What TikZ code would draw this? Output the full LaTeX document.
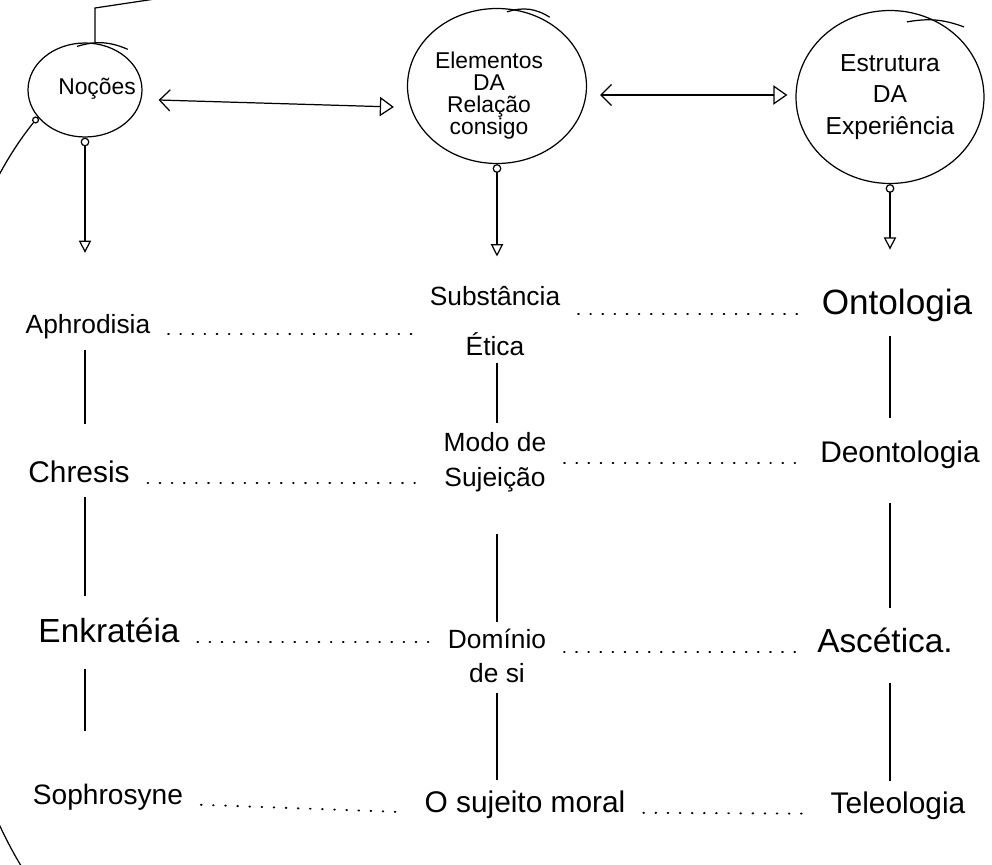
\documentclass[tikz,border=0pt]{standalone}
\usepackage{fontspec}
\setmainfont{Liberation Sans}
\usetikzlibrary{arrows.meta,shapes.geometric}

\begin{document}
\begin{tikzpicture}[x=0.02cm, y=-0.02cm,
blob/.style={draw, ellipse, inner sep=0pt, align=center, line width=0.7pt},
lbl/.style={align=center, inner sep=2pt, font=\fontsize{17}{19}\selectfont},
arr/.style={{Circle[open,length=5pt]}-{Triangle[open,length=7pt,width=7pt]}, line width=0.7pt},
harr/.style={{Straight Barb[length=6pt,width=12pt]}-{Triangle[open,length=8pt,width=11pt]}, line width=0.7pt},
dots/.style={line width=1.1pt, line cap=round, dash pattern=on 0.4pt off 6.5pt, shorten <=8pt, shorten >=8pt},
vl/.style={line width=0.7pt}
]
\useasboundingbox (0,0) rectangle (992,865);
\fill[white] (0,0) rectangle (992,865);
\clip (0,0) rectangle (992,865);

% the three notions
\node[blob, minimum width=2.28cm, minimum height=1.88cm] (noc) at (85,90) {};
\node[font=\fontsize{13}{15}\selectfont] (noctxt) at (97,89) {Noções};
\node[blob, minimum width=3.58cm, minimum height=3.1cm] (elem) at (497,86) {};
\node[align=center, font=\fontsize{13}{12.5}\selectfont] (elemtxt) at (489,96) {Elementos\\DA\\Relação\\consigo};
\node[blob, minimum width=3.76cm, minimum height=3.46cm, font=\fontsize{14}{18}\selectfont] (estr) at (890,97) {Estrutura\\DA\\Experiência};

% the grid
\node[lbl, font=\fontsize{15}{19}\selectfont] (aphro) at (88,327) {Aphrodisia};
\node[lbl, font=\fontsize{15}{28}\selectfont] (subst) at (495,321) {Substância\\Ética};
\node[lbl, font=\fontsize{20}{22}\selectfont] (onto) at (897,305) {Ontologia};

\node[lbl] (chres) at (79,472) {Chresis};
\node[lbl, font=\fontsize{15}{20}\selectfont] (modo) at (495,462) {Modo de\\Sujeição};
\node[lbl] (deon) at (900,455) {Deontologia};

\node[lbl, font=\fontsize{19}{21}\selectfont] (enk) at (109,630) {Enkratéia};
\node[lbl, font=\fontsize{15}{19}\selectfont] (dom) at (497,656) {Domínio\\de si};
\node[lbl, font=\fontsize{19}{21}\selectfont] (asc) at (885,640) {Ascética.};

\node[lbl, font=\fontsize{16}{19}\selectfont] (soph) at (108,797) {Sophrosyne};
\node[lbl] (suj) at (525,805) {O sujeito moral};
\node[lbl] (tele) at (898,806) {Teleologia};

\coordinate (topbend) at (95,8);
\coordinate (topend) at (175,-4);
\coordinate (botend) at (30,880);

% links between the notions
\draw[harr] ([shift={(16,10)}]noc.east) -- ([shift={(-13,21)}]elem.west);
\draw[harr] ([shift={(13,9)}]elem.east) -- ([shift={(-8,-2)}]estr.west);
\draw[vl] (topbend |- noc.north) -- (topbend) -- (topend);
\draw[vl, {Circle[open,length=4pt]}-] (noc.210) .. controls (-110,300) and (-90,700) .. (botend);

% pen overshoots
\draw[vl] ([shift={(-8,4)}]noc.north) to[bend left=20] ([shift={(6,-4)}]noc.45);
\draw[vl] ([shift={(10,4)}]elem.north) to[bend left=25] ([shift={(6,-2)}]elem.55);
\draw[vl] ([shift={(17,12)}]estr.north) to[bend left=15] ([shift={(10,-6)}]estr.45);

\draw[arr, shorten >=33pt] (noc.south) -- (noc.south |- aphro.north);
\draw[arr, shorten >=15pt] (elem.south) -- (elem.south |- subst.north);
\draw[arr, shorten >=20pt] (estr.south) -- (estr.south |- onto.north);

% columns
\draw[vl, shorten <=4pt, shorten >=19pt] (aphro.south -| noc) -- (chres.north -| noc);
\draw[vl, shorten <=6pt, shorten >=10pt] (chres.south -| noc) -- (enk.north -| noc);
\draw[vl, shorten <=13pt, shorten >=28pt] (enk.south -| noc) -- (soph.north -| noc);

\draw[vl, shorten <=2pt, shorten >=3pt] (subst.south -| elem) -- (modo.north -| elem);
\draw[vl, shorten <=22pt, shorten >=2pt] (modo.south -| elem) -- (dom.north -| elem);
\draw[vl, shorten <=4pt, shorten >=4pt] (dom.south -| elem) -- (suj.north -| elem);

\draw[vl, shorten <=6pt, shorten >=11pt] (onto.south -| estr) -- (deon.north -| estr);
\draw[vl, shorten <=17pt, shorten >=9pt] (deon.south -| estr) -- (asc.north -| estr);
\draw[vl, shorten <=15pt, shorten >=4pt] (asc.south -| estr) -- (tele.north -| estr);

% rows
\draw[dots] (aphro.base east) -- (aphro.base east -| subst.west);
\draw[dots] (onto.base west -| subst.east) -- (onto.base west);
\draw[dots] (chres.base east) -- (chres.base east -| modo.west);
\draw[dots] (deon.base west -| modo.east) -- (deon.base west);
\draw[dots] (enk.base east) -- (enk.base east -| dom.west);
\draw[dots] (asc.base west -| dom.east) -- (asc.base west);
\draw[dots] (soph.base east) -- (suj.base west);
\draw[dots] (suj.base east) -- (tele.base west);
\end{tikzpicture}
\end{document}
